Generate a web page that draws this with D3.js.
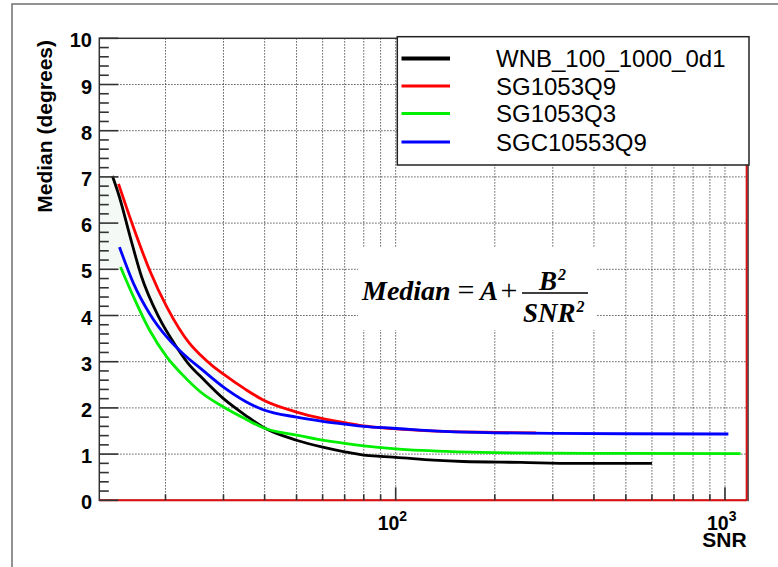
<!DOCTYPE html>
<html><head><meta charset="utf-8">
<script src="https://cdn.jsdelivr.net/npm/d3@7"></script>
<style>body{margin:0;background:#fff} svg{display:block}</style>
</head><body><svg id="c" width="778" height="567"></svg>
<script>
// ---- data ----
const seriesNames = ["WNB_100_1000_0d1", "SG1053Q9", "SG1053Q3", "SGC10553Q9"];
const seriesColors = ["#000000", "#ff0000", "#00ee00", "#0000ff"];

const wnbSNR = [13.8,14.5,15.6,16.9,19.0,21.6,23.7,25.5,30,35,39.6,50,60,70,80,90,100,130,160,240,350,600];
const wnbMed = [7.02,6.56,5.72,4.85,3.99,3.32,2.92,2.69,2.20,1.84,1.58,1.30,1.15,1.05,0.98,0.95,0.93,0.87,0.84,0.82,0.80,0.80];

const sgq9SNR = [14.4,16.0,17.9,20.2,23.7,25.5,27.9,30,35,39.6,50,60,70,80,98,140,200,267];
const sgq9Med = [6.85,5.90,4.98,4.18,3.39,3.15,2.90,2.73,2.40,2.17,1.91,1.77,1.68,1.61,1.55,1.49,1.47,1.46];

const sgq3SNR = [14.6,16.0,17.9,20.2,22.5,25.5,30,35,39.6,50,60,70,80,98,120,153,200,290,500,1116];
const sgq3Med = [5.05,4.40,3.68,3.10,2.72,2.35,2.02,1.76,1.57,1.41,1.30,1.23,1.18,1.12,1.08,1.05,1.03,1.02,1.015,1.01];

const sgcSNR = [14.5,16.0,17.9,20.2,23.2,25.5,30,35,39.6,50,60,70,80,98,140,200,300,500,1024];
const sgcMed = [5.48,4.69,4.04,3.53,3.10,2.86,2.45,2.14,1.96,1.80,1.71,1.65,1.60,1.56,1.49,1.46,1.45,1.44,1.435];

const yMajorTicks = [0,1,2,3,4,5,6,7,8,9,10];
const yTickLabels = ["0","1","2","3","4","5","6","7","8","9","10"];
const xMinorTicks = [20,30,40,50,60,70,80,90,200,300,400,500,600,700,800,900];
const xMajorTicks = [100,1000];
const xTickBase = ["10","10"];
const xTickExp = ["2","3"];
const xDomain = [12.59, 1164];
const yDomain = [0, 10];
const xTitle = "SNR";
const yTitle = "Median (degrees)";

// ---- layout ----
const svg = d3.select("#c");
const L = 99.3, R = 746.7, T = 38.3, B = 500.3;
const x = d3.scaleLog().domain(xDomain).range([L, R]);
const y = d3.scaleLinear().domain(yDomain).range([B, T]);

// outer canvas frame (only top/left visible)
svg.append("rect").attr("x",12).attr("y",4).attr("width",900).attr("height",900)
  .attr("fill","none").attr("stroke","#707070").attr("stroke-width",1.5);

// grid
const grid = svg.append("g").attr("stroke","#333").attr("stroke-width",1).attr("stroke-dasharray","1.2,1.8");
yMajorTicks.filter(v=>v>0 && v<10).forEach(v=>{
  grid.append("line").attr("x1",L).attr("x2",R).attr("y1",y(v)).attr("y2",y(v));
});
xMinorTicks.concat(xMajorTicks).forEach(v=>{
  grid.append("line").attr("x1",x(v)).attr("x2",x(v)).attr("y1",T).attr("y2",B);
});

const series = [
  {snr: wnbSNR, med: wnbMed},
  {snr: sgq9SNR, med: sgq9Med},
  {snr: sgq3SNR, med: sgq3Med},
  {snr: sgcSNR, med: sgcMed}
];

// faint fill near the curve origin
const fillPts = [[xDomain[0], wnbMed[0]], [wnbSNR[0], wnbMed[0]]];
sgq9SNR.forEach((s,i)=>{ if (s<=30) fillPts.push([s, sgq9Med[i]]); });
for (let i=sgq3SNR.length-1;i>=0;i--) if (sgq3SNR[i]<=30) fillPts.push([sgq3SNR[i], sgq3Med[i]]);
fillPts.push([xDomain[0], sgq3Med[0]]);
svg.append("path").attr("d", d3.line().x(d=>x(d[0])).y(d=>y(d[1])).curve(d3.curveMonotoneX)(fillPts)+"Z")
  .attr("fill","#f5f9f5").attr("stroke","none");

// formula white box
svg.append("rect").attr("x",358).attr("y",248).attr("width",239).attr("height",82).attr("fill","#fff");

// curves
const line = d3.line().x(d=>x(d[0])).y(d=>y(d[1])).curve(d3.curveMonotoneX);
series.forEach((s,i)=>{
  const pts = s.snr.map((v,j)=>[v, s.med[j]]);
  svg.append("path").attr("d", line(pts)).attr("fill","none")
    .attr("stroke", seriesColors[i]).attr("stroke-width", 2.8).attr("stroke-linejoin","round");
});

// frame
svg.append("rect").attr("x",L).attr("y",T).attr("width",R-L).attr("height",B-T)
  .attr("fill","none").attr("stroke","#333").attr("stroke-width",1.5);
svg.append("line").attr("x1",L).attr("x2",R).attr("y1",B).attr("y2",B).attr("stroke","#e01010").attr("stroke-width",2);
svg.append("line").attr("x1",R).attr("x2",R).attr("y1",T).attr("y2",B).attr("stroke","#e01010").attr("stroke-width",2);
svg.append("line").attr("x1",R+1.5).attr("x2",R+1.5).attr("y1",T).attr("y2",B+1).attr("stroke","#333").attr("stroke-width",1.2);

// y ticks
const ticks = svg.append("g").attr("stroke","#333").attr("stroke-width",1.6);
d3.range(0, 10.001, 0.2).forEach(v=>{
  const major = Math.abs(v - Math.round(v)) < 1e-6;
  ticks.append("line").attr("x1",L).attr("x2",L + (major?19:9.5)).attr("y1",y(v)).attr("y2",y(v));
});
// x ticks
xMinorTicks.forEach(v=>{
  ticks.append("line").attr("x1",x(v)).attr("x2",x(v)).attr("y1",B).attr("y2",B-6);
});
xMajorTicks.forEach(v=>{
  ticks.append("line").attr("x1",x(v)).attr("x2",x(v)).attr("y1",B).attr("y2",B-13);
});

// y tick labels
const font = "'Liberation Sans', Arial, sans-serif";
yMajorTicks.forEach((v,i)=>{
  svg.append("text").attr("x",92).attr("y",y(v)+9).attr("text-anchor","end")
    .attr("font-family",font).attr("font-weight","bold").attr("font-size",20).text(yTickLabels[i]);
});
// x tick labels
xMajorTicks.forEach((v,i)=>{
  const t = svg.append("text").attr("x",x(v)-18).attr("y",529.5)
    .attr("font-family",font).attr("font-weight","bold").attr("font-size",19.5);
  t.append("tspan").text(xTickBase[i]);
  t.append("tspan").attr("font-size",14).attr("dy",-9).text(xTickExp[i]);
});
// axis titles
svg.append("text").attr("x",R).attr("y",547).attr("text-anchor","end")
  .attr("font-family",font).attr("font-weight","bold").attr("font-size",21).text(xTitle);
svg.append("text").attr("transform","translate(52,40) rotate(-90)").attr("text-anchor","end")
  .attr("font-family",font).attr("font-weight","bold").attr("font-size",21).text(yTitle);

// formula
const serif = "'Liberation Serif', 'Times New Roman', serif";
const f = svg.append("g").attr("font-family",serif).attr("fill","#000");
f.append("text").attr("x",362).attr("y",300).attr("font-size",28).attr("font-weight","bold").attr("font-style","italic").text("Median");
f.append("text").attr("x",466).attr("y",300).attr("text-anchor","middle").attr("font-size",30).text("=");
f.append("text").attr("x",480).attr("y",300).attr("font-size",27).attr("font-weight","bold").attr("font-style","italic").text("A");
f.append("text").attr("x",509).attr("y",300).attr("text-anchor","middle").attr("font-size",30).text("+");
f.append("line").attr("x1",522).attr("x2",588).attr("y1",293).attr("y2",293).attr("stroke","#000").attr("stroke-width",1.4);
const fb = f.append("text").attr("x",539).attr("y",290).attr("font-size",27).attr("font-weight","bold").attr("font-style","italic");
fb.append("tspan").text("B");
fb.append("tspan").attr("font-size",16).attr("dy",-10).attr("dx",1).text("2");
const fs = f.append("text").attr("x",523).attr("y",322).attr("font-size",27).attr("font-weight","bold").attr("font-style","italic");
fs.append("tspan").text("SNR");
fs.append("tspan").attr("font-size",16).attr("dy",-10).attr("dx",1).text("2");

// legend
const lg = svg.append("g");
lg.append("rect").attr("x",397.3).attr("y",36.7).attr("width",351.7).attr("height",128.3)
  .attr("fill","#fff").attr("stroke","#222").attr("stroke-width",1.5);
const rowY = [58.5, 86, 113.5, 142];
seriesNames.forEach((n,i)=>{
  lg.append("line").attr("x1",401.5).attr("x2",450).attr("y1",rowY[i]).attr("y2",rowY[i])
    .attr("stroke",seriesColors[i]).attr("stroke-width", i===0?4:3);
  lg.append("text").attr("x",496).attr("y",rowY[i]+8.5).attr("font-family",font)
    .attr("font-size",24).attr("fill","#000").text(n);
});
</script></body></html>
